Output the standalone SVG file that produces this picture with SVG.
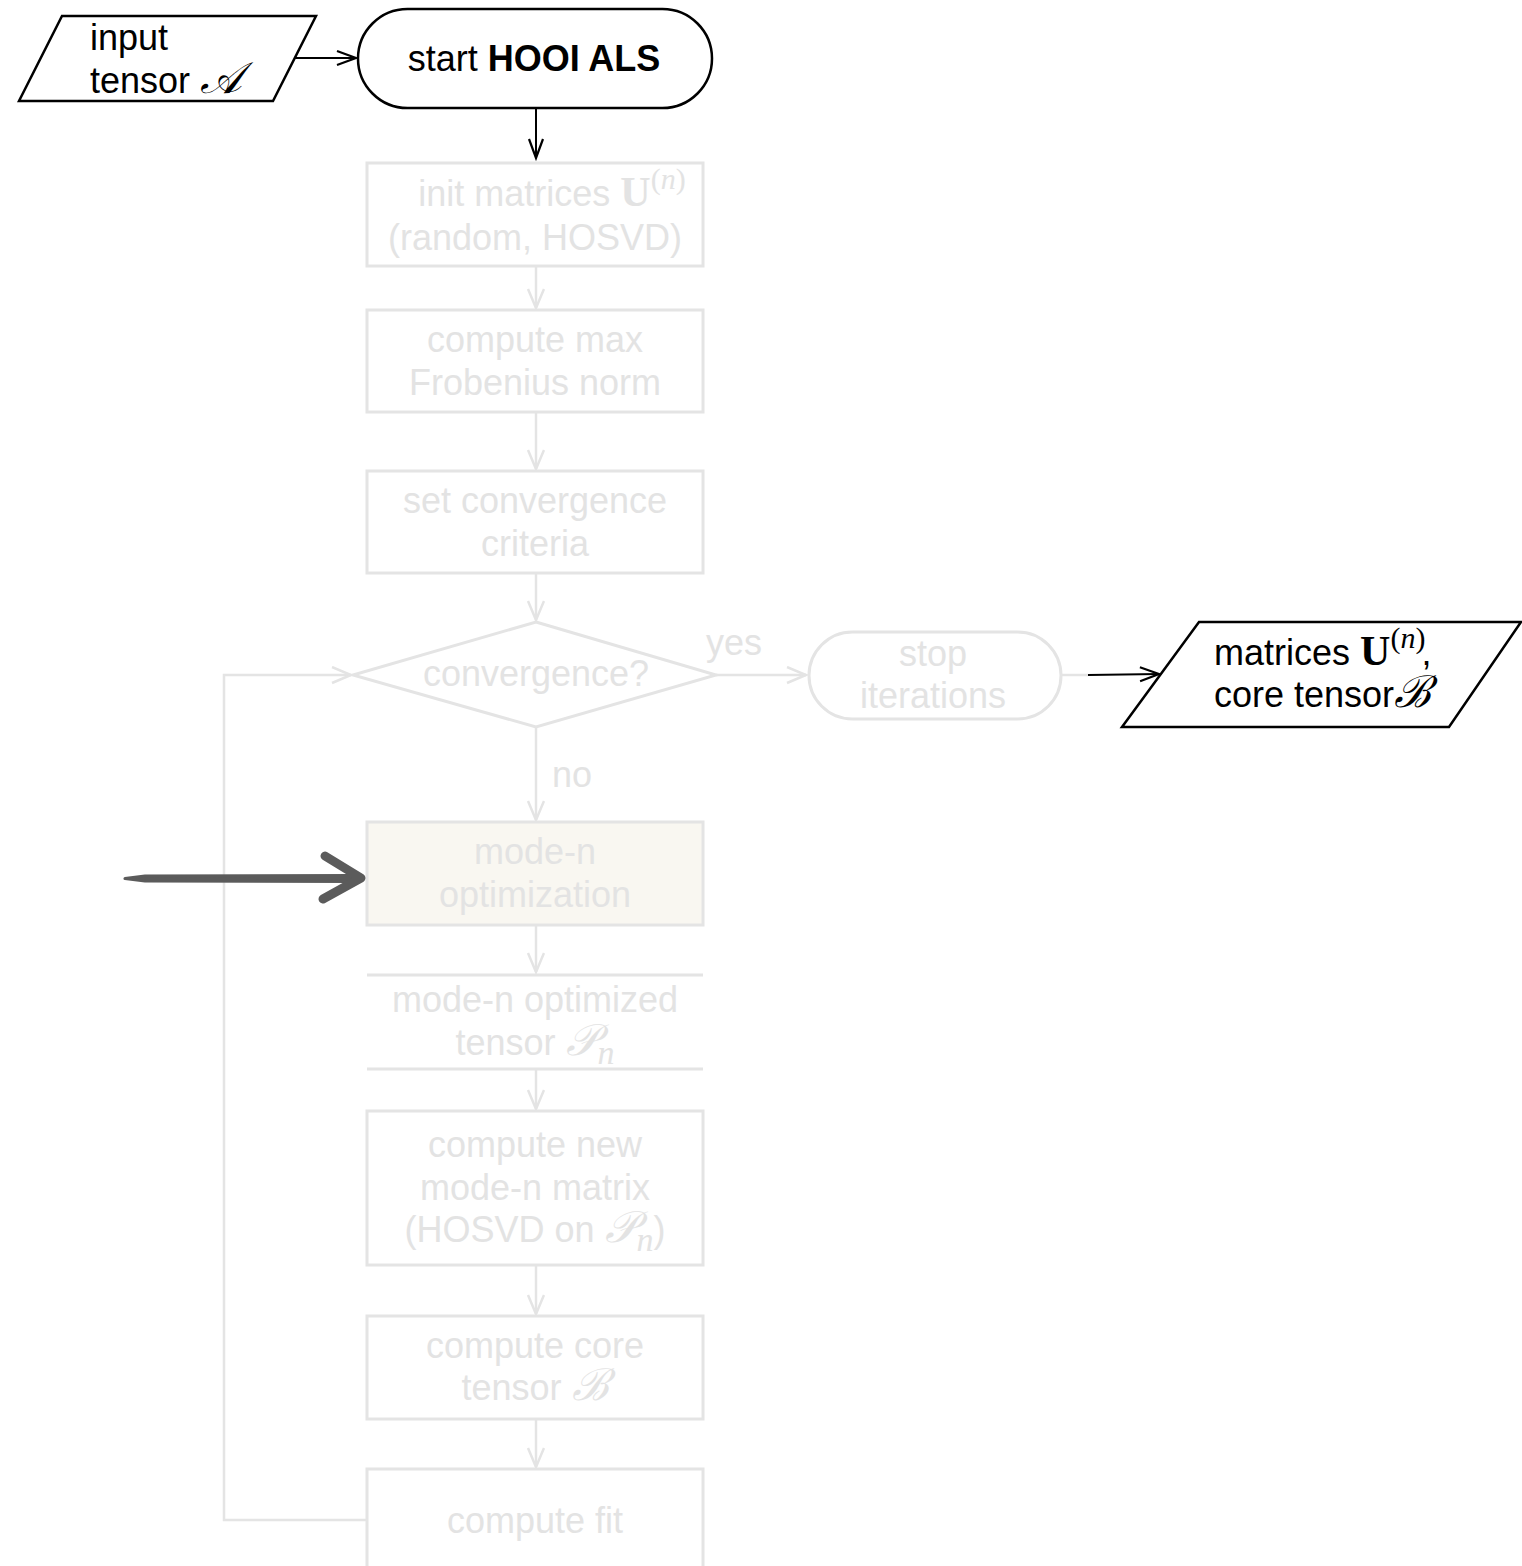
<svg xmlns="http://www.w3.org/2000/svg" width="1522" height="1566" viewBox="0 0 1522 1566">
<defs>
<marker id="ag" markerUnits="userSpaceOnUse" markerWidth="24" markerHeight="22" refX="20" refY="9" orient="auto">
<path d="M1,1 L20,9 L1,17" fill="none" stroke="#e4e4e4" stroke-width="2.5"/>
</marker>
<marker id="ab" markerUnits="userSpaceOnUse" markerWidth="24" markerHeight="22" refX="20" refY="9" orient="auto">
<path d="M1,2 L20,9 L1,16" fill="none" stroke="#000" stroke-width="2.2"/>
</marker>
<style>
text{font-family:"Liberation Sans",Arial,sans-serif;font-size:36px}
.lt{fill:#e3e3e3;text-anchor:middle}
.bk{fill:#000}
.gs{fill:none;stroke:#e4e4e4;stroke-width:3}
.bs{fill:#fff;stroke:#000;stroke-width:2.5}
.gl{fill:none;stroke:#e4e4e4;stroke-width:2.5}
.m{font-family:"DejaVu Serif","Liberation Serif",serif;font-style:italic;font-size:44px}
.sb{font-family:"Liberation Serif",serif;font-weight:bold;font-size:42px}
.sup{font-family:"Liberation Serif",serif;font-size:30px}
.sub{font-family:"Liberation Serif",serif;font-style:italic;font-size:34px}
</style>
</defs>
<rect width="1522" height="1566" fill="#fff"/>
<g id="connectors">
<line x1="294" y1="58" x2="356" y2="58" stroke="#000" stroke-width="2" marker-end="url(#ab)"/>
<line x1="536" y1="108" x2="536" y2="158" stroke="#000" stroke-width="2" marker-end="url(#ab)"/>
<line x1="536" y1="266" x2="536" y2="308" class="gl" marker-end="url(#ag)"/>
<line x1="536" y1="412" x2="536" y2="469" class="gl" marker-end="url(#ag)"/>
<line x1="536" y1="573" x2="536" y2="620" class="gl" marker-end="url(#ag)"/>
<line x1="716" y1="675" x2="806" y2="675" class="gl" marker-end="url(#ag)"/>
<line x1="1062" y1="675" x2="1088" y2="675" class="gl"/>
<line x1="1088" y1="675" x2="1159" y2="674" stroke="#000" stroke-width="2" marker-end="url(#ab)"/>
<line x1="536" y1="727" x2="536" y2="820" class="gl" marker-end="url(#ag)"/>
<line x1="536" y1="925" x2="536" y2="972" class="gl" marker-end="url(#ag)"/>
<line x1="536" y1="1069" x2="536" y2="1109" class="gl" marker-end="url(#ag)"/>
<line x1="536" y1="1265" x2="536" y2="1314" class="gl" marker-end="url(#ag)"/>
<line x1="536" y1="1419" x2="536" y2="1467" class="gl" marker-end="url(#ag)"/>
<polyline points="367,1520 224,1520 224,675 351,675" class="gl" marker-end="url(#ag)"/>
<text x="706" y="655" style="fill:#e3e3e3">yes</text>
<text x="552" y="787" style="fill:#e3e3e3">no</text>
</g>
<g id="input">
<polygon points="62,16 316,16 273,101 19,101" class="bs"/>
<text x="90" y="50" class="bk">input</text>
<text x="90" y="93" class="bk">tensor <tspan class="m">𝒜</tspan></text>
</g>
<g id="start">
<rect x="358" y="9" width="354" height="99" rx="49.5" class="bs"/>
<text x="534" y="71" class="bk" text-anchor="middle">start <tspan font-weight="bold">HOOI ALS</tspan></text>
</g>
<g id="init">
<rect x="367" y="163" width="336" height="103" class="gs"/>
<text x="552" y="206" class="lt">init matrices <tspan class="sb">U</tspan><tspan class="sup" dy="-17">(<tspan font-style="italic">n</tspan>)</tspan></text>
<text x="535" y="250" class="lt">(random, HOSVD)</text>
</g>
<g id="maxnorm">
<rect x="367" y="310" width="336" height="102" class="gs"/>
<text x="535" y="352" class="lt">compute max</text>
<text x="535" y="395" class="lt">Frobenius norm</text>
</g>
<g id="criteria">
<rect x="367" y="471" width="336" height="102" class="gs"/>
<text x="535" y="513" class="lt">set convergence</text>
<text x="535" y="556" class="lt">criteria</text>
</g>
<g id="convergence">
<polygon points="536,622 716,675 536,727 353,675" class="gs"/>
<text x="536" y="686" class="lt">convergence?</text>
</g>
<g id="stop">
<rect x="809" y="632" width="252" height="87" rx="43.5" class="gs"/>
<text x="933" y="666" class="lt">stop</text>
<text x="933" y="708" class="lt">iterations</text>
</g>
<g id="output">
<polygon points="1199,622 1521,622 1449,727 1122,727" class="bs"/>
<text x="1214" y="665" class="bk">matrices <tspan class="sb">U</tspan><tspan class="sup" dy="-17">(<tspan font-style="italic">n</tspan>)</tspan><tspan dy="17" dx="-4">,</tspan></text>
<text x="1214" y="707" class="bk">core tensor<tspan class="m">ℬ</tspan></text>
</g>
<g id="optimization">
<rect x="367" y="822" width="336" height="103" fill="#f9f7f1" stroke="#e4e4e4" stroke-width="3"/>
<text x="535" y="864" class="lt">mode-n</text>
<text x="535" y="907" class="lt">optimization</text>
</g>
<g id="optimized-tensor">
<line x1="367" y1="975" x2="703" y2="975" class="gs"/>
<line x1="367" y1="1069" x2="703" y2="1069" class="gs"/>
<text x="535" y="1012" class="lt">mode-n optimized</text>
<text x="535" y="1055" class="lt">tensor <tspan class="m">𝒫</tspan><tspan class="sub" dy="9">n</tspan></text>
</g>
<g id="new-matrix">
<rect x="367" y="1111" width="336" height="154" class="gs"/>
<text x="535" y="1157" class="lt">compute new</text>
<text x="535" y="1200" class="lt">mode-n matrix</text>
<text x="535" y="1242" class="lt">(HOSVD on <tspan class="m">𝒫</tspan><tspan class="sub" dy="9">n</tspan><tspan dy="-9">)</tspan></text>
</g>
<g id="core">
<rect x="367" y="1316" width="336" height="103" class="gs"/>
<text x="535" y="1358" class="lt">compute core</text>
<text x="535" y="1400" class="lt">tensor <tspan class="m">ℬ</tspan></text>
</g>
<g id="fit">
<rect x="367" y="1469" width="336" height="110" class="gs"/>
<text x="535" y="1533" class="lt">compute fit</text>
</g>
<g id="pointer">
<path d="M125,878.5 L145,876 L355,875.5 L355,881.5 L145,881 Z" fill="#5b5b5b" stroke="#5b5b5b" stroke-width="3" stroke-linejoin="round"/>
<polyline points="325,856 361,878 323,899" fill="none" stroke="#5b5b5b" stroke-width="9" stroke-linecap="round" stroke-linejoin="round"/>
</g>
</svg>
